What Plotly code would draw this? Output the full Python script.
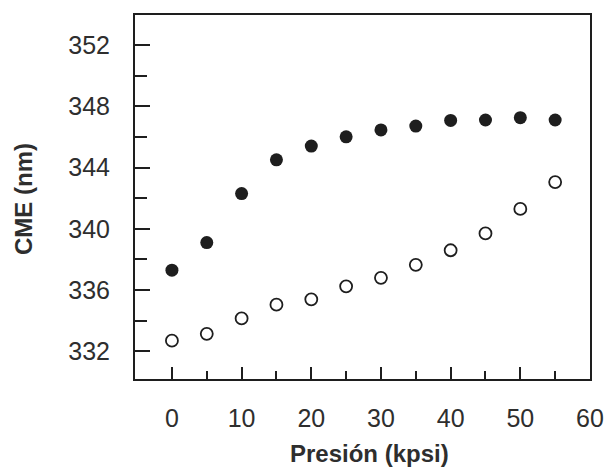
import plotly.graph_objects as go

presion = [0, 5, 10, 15, 20, 25, 30, 35, 40, 45, 50, 55]
cme_llenos = [337.3, 339.1, 342.3, 344.5, 345.4, 346.0, 346.45, 346.7, 347.07, 347.1, 347.25, 347.1]
cme_vacios = [332.7, 333.15, 334.15, 335.05, 335.4, 336.25, 336.8, 337.65, 338.6, 339.7, 341.3, 343.05]

x_ticks = [0, 10, 20, 30, 40, 50, 60]
x_minor = [5, 15, 25, 35, 45, 55]
y_ticks = [332, 336, 340, 344, 348, 352]
y_minor = [334, 338, 342, 346, 350]

ink = "#1e1e1e"
txt = "#2e2e2e"
font = "Liberation Sans, Arial, sans-serif"

W, H = 608, 469
ML, MR, MT, MB = 135, 18, 15, 90
PW, PH = W - ML - MR, H - MT - MB

fig = go.Figure()
fig.add_trace(go.Scatter(x=presion, y=cme_llenos, mode="markers",
                         marker=dict(symbol="circle", size=13, color=ink,
                                     line=dict(width=0)),
                         showlegend=False))
fig.add_trace(go.Scatter(x=presion, y=cme_vacios, mode="markers",
                         marker=dict(symbol="circle-open", size=12, color=ink,
                                     line=dict(width=1.8)),
                         showlegend=False))

fig.update_layout(
    width=W, height=H,
    margin=dict(l=ML, r=MR, t=MT, b=MB),
    paper_bgcolor="white", plot_bgcolor="white",
    font=dict(family=font, color=txt, size=25),
    xaxis=dict(range=[-5.3, 60.0], tickvals=x_ticks, ticks="inside",
               ticklen=12, tickwidth=2, tickcolor=ink,
               tickfont=dict(size=25, family=font, color=txt),
               minor=dict(tickvals=x_minor, ticks="inside", ticklen=8,
                          tickwidth=2, tickcolor=ink, showgrid=False),
               showline=True, linecolor=ink, linewidth=2, mirror=True,
               showgrid=False, zeroline=False, ticklabelstandoff=16,
               automargin=False),
    yaxis=dict(range=[330.2, 353.95], tickvals=y_ticks, ticks="inside",
               ticklen=15, tickwidth=2, tickcolor=ink,
               tickfont=dict(size=25, family=font, color=txt),
               minor=dict(tickvals=y_minor, ticks="inside", ticklen=12,
                          tickwidth=2, tickcolor=ink, showgrid=False),
               showline=True, linecolor=ink, linewidth=2, mirror=True,
               showgrid=False, zeroline=False, ticklabelstandoff=18,
               automargin=False),
    annotations=[
        dict(text="<b>Presión (kpsi)</b>", xref="paper", yref="paper",
             x=(369 - ML) / PW, y=0, yshift=-(453 - (H - MB)),
             xanchor="center", yanchor="middle", showarrow=False,
             font=dict(size=24, family=font, color=txt)),
        dict(text="<b>CME (nm)</b>", xref="paper", yref="paper",
             x=0, xshift=-112, y=(379 - 199) / PH,
             xanchor="center", yanchor="middle", textangle=-90,
             showarrow=False,
             font=dict(size=24, family=font, color=txt)),
    ],
)

fig.write_html("out.html",
               config={"displayModeBar": False},
               post_script="document.body.style.margin='0';"
                           "document.documentElement.style.overflow='hidden';")
